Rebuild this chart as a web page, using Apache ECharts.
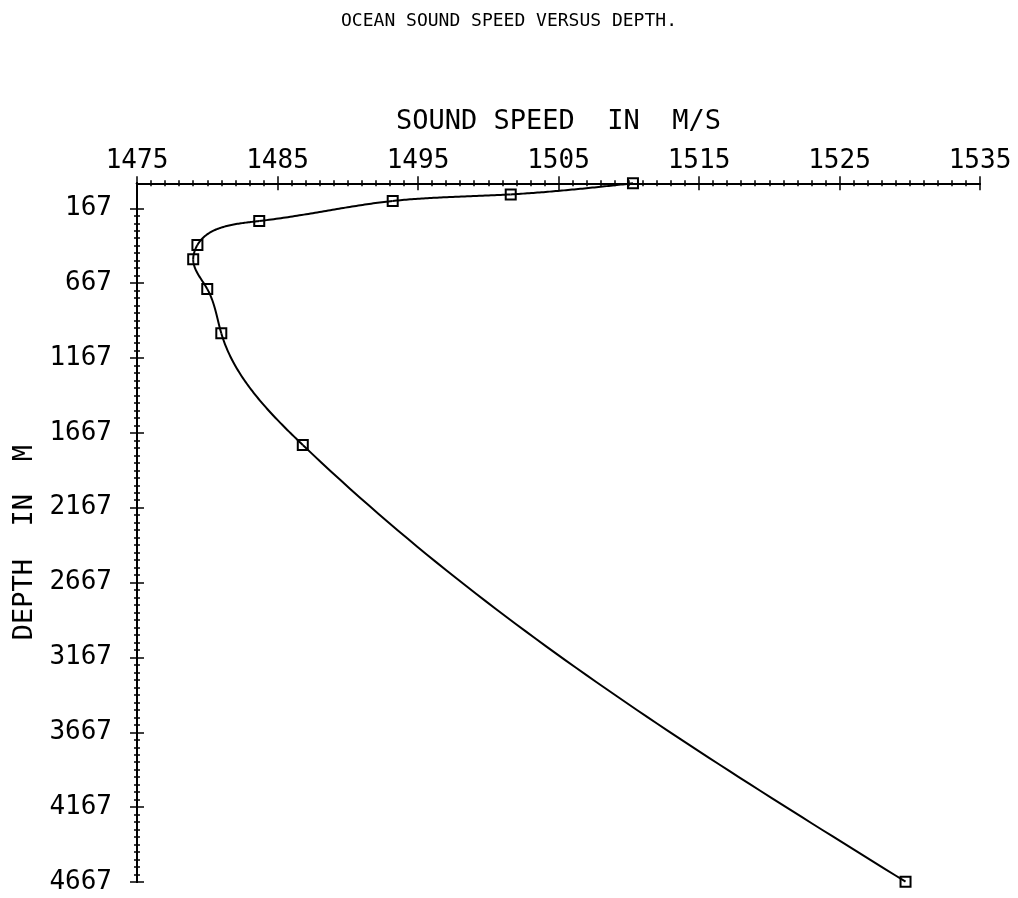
<!DOCTYPE html>
<html>
<head>
<meta charset="utf-8">
<script src="https://cdn.jsdelivr.net/npm/echarts@6/dist/echarts.min.js"></script>
<style>
html,body{margin:0;padding:0;background:#fff;}
#chart{width:1018px;height:898px;}
</style>
</head>
<body>
<div id="chart"></div>
<script>
// ---- data ----
const soundSpeed = [1510.3, 1501.6, 1493.2, 1483.7, 1479.3, 1479.0, 1480.0, 1481.0, 1486.8, 1529.7];
const depth      = [0, 74, 118, 252, 412, 508, 706, 1002, 1748, 4665];
const yTickLabels = [167, 667, 1167, 1667, 2167, 2667, 3167, 3667, 4167, 4667];
const xMin = 1475, xMax = 1535, xStep = 10;
const yMin = 0, yMax = 4667, yMinorStep = 50;

const titleText = 'OCEAN SOUND SPEED VERSUS DEPTH.';
const xName = 'SOUND SPEED  IN  M/S';
const yName = 'DEPTH  IN  M';

// minor tick positions on depth axis (between labelled ticks)
const yMinor = [];
for (let v = yTickLabels[0]; v <= yMax; v += yMinorStep) yMinor.push(v);

const points = soundSpeed.map((s, i) => [s, depth[i]]);

// natural cubic spline helpers, used only to draw the smooth curve through the data
function splineSecondDerivs(t, y) {
  const n = t.length, M = new Array(n).fill(0);
  if (n < 3) return M;
  const a = [], b = [], c = [], d = [];
  for (let i = 1; i < n - 1; i++) {
    const h0 = t[i] - t[i - 1], h1 = t[i + 1] - t[i];
    a.push(h0); b.push(2 * (h0 + h1)); c.push(h1);
    d.push(6 * ((y[i + 1] - y[i]) / h1 - (y[i] - y[i - 1]) / h0));
  }
  const m = b.length;
  for (let i = 1; i < m; i++) {
    const w = a[i] / b[i - 1];
    b[i] -= w * c[i - 1]; d[i] -= w * d[i - 1];
  }
  const sol = new Array(m);
  sol[m - 1] = d[m - 1] / b[m - 1];
  for (let i = m - 2; i >= 0; i--) sol[i] = (d[i] - c[i] * sol[i + 1]) / b[i];
  for (let i = 0; i < m; i++) M[i + 1] = sol[i];
  return M;
}
function splineEval(t, y, M, i, x) {
  const t0 = t[i], t1 = t[i + 1], h = t1 - t0;
  return M[i] * Math.pow(t1 - x, 3) / (6 * h) + M[i + 1] * Math.pow(x - t0, 3) / (6 * h)
       + (y[i] / h - M[i] * h / 6) * (t1 - x) + (y[i + 1] / h - M[i + 1] * h / 6) * (x - t0);
}

const FONT = 'DejaVu Sans Mono';
const BLACK = '#000';
const plain = v => String(v);

const chart = echarts.init(document.getElementById('chart'), null, {renderer: 'canvas'});

const xBase = {
  type: 'value', position: 'top', min: xMin, max: xMax, interval: xStep,
  splitLine: {show: false},
  axisLine: {show: true, onZero: false, lineStyle: {color: BLACK, width: 2}},
};
const yBase = {
  type: 'value', position: 'left', inverse: true, min: yMin, max: yMax,
  splitLine: {show: false},
  axisLine: {show: true, onZero: false, lineStyle: {color: BLACK, width: 2}},
};

chart.setOption({
  animation: false,
  backgroundColor: '#fff',
  title: {
    text: titleText, left: 'center', top: 12, padding: 0,
    textStyle: {fontFamily: FONT, fontSize: 18, fontWeight: 'normal', color: BLACK}
  },
  grid: {left: 137, right: 38, top: 183.3, bottom: 16, containLabel: false, outerBoundsMode: 'none'},
  xAxis: [
    Object.assign({}, xBase, {
      name: xName, nameLocation: 'middle', nameGap: 48,
      nameTextStyle: {fontFamily: FONT, fontSize: 27, color: BLACK},
      axisTick: {show: true, inside: false, length: 7, lineStyle: {color: BLACK, width: 1.5}},
      minorTick: {show: true, splitNumber: 10, length: 3, lineStyle: {color: BLACK, width: 1.5}},
      axisLabel: {show: true, margin: 9, fontFamily: FONT, fontSize: 26, color: BLACK, formatter: plain}
    }),
    Object.assign({}, xBase, {
      axisTick: {show: true, inside: true, length: 7, lineStyle: {color: BLACK, width: 1.5}},
      minorTick: {show: true, splitNumber: 10, length: 3, lineStyle: {color: BLACK, width: 1.5}},
      axisLabel: {show: false}
    })
  ],
  yAxis: [
    Object.assign({}, yBase, {
      name: yName, nameLocation: 'middle', nameGap: 88,
      nameTextStyle: {fontFamily: FONT, fontSize: 27, color: BLACK, padding: [0, 20, 0, 0]},
      axisTick: {show: true, inside: false, length: 7, customValues: yTickLabels, lineStyle: {color: BLACK, width: 1.5}},
      axisLabel: {show: true, margin: 25, customValues: yTickLabels, fontFamily: FONT, fontSize: 26, color: BLACK, formatter: plain}
    }),
    Object.assign({}, yBase, {
      axisTick: {show: true, inside: true, length: 7, customValues: yTickLabels, lineStyle: {color: BLACK, width: 1.5}},
      axisLabel: {show: false, customValues: yTickLabels}
    }),
    Object.assign({}, yBase, {
      axisTick: {show: true, inside: false, length: 3, customValues: yMinor, lineStyle: {color: BLACK, width: 1.5}},
      axisLabel: {show: false, customValues: yMinor}
    }),
    Object.assign({}, yBase, {
      axisTick: {show: true, inside: true, length: 3, customValues: yMinor, lineStyle: {color: BLACK, width: 1.5}},
      axisLabel: {show: false, customValues: yMinor}
    })
  ],
  series: [
    {
      // smooth curve through the measured points: parametric spline in screen space
      type: 'custom',
      coordinateSystem: 'cartesian2d',
      xAxisIndex: 0, yAxisIndex: 0,
      data: points,
      silent: true,
      z: 4,
      renderItem: function (params, api) {
        const i = params.dataIndex;
        if (i >= points.length - 1) return null;
        const px = points.map(p => api.coord(p));
        const t = [0];
        for (let j = 1; j < px.length; j++) {
          t.push(t[j - 1] + Math.hypot(px[j][0] - px[j - 1][0], px[j][1] - px[j - 1][1]));
        }
        const X = px.map(p => p[0]), Y = px.map(p => p[1]);
        const MX = splineSecondDerivs(t, X), MY = splineSecondDerivs(t, Y);
        const steps = 60, pts = [];
        for (let k = 0; k <= steps; k++) {
          const u = t[i] + (t[i + 1] - t[i]) * k / steps;
          pts.push([splineEval(t, X, MX, i, u), splineEval(t, Y, MY, i, u)]);
        }
        return {
          type: 'polyline',
          shape: {points: pts},
          style: {stroke: BLACK, lineWidth: 2, fill: null}
        };
      }
    },
    {
      type: 'line',
      xAxisIndex: 0, yAxisIndex: 0,
      data: points,
      clip: false,
      symbol: 'rect',
      symbolSize: 10,
      showSymbol: true,
      lineStyle: {width: 0, opacity: 0},
      itemStyle: {color: 'rgba(0,0,0,0)', borderColor: BLACK, borderWidth: 2},
      emphasis: {disabled: true},
      z: 5
    }
  ]
});
</script>
</body>
</html>
